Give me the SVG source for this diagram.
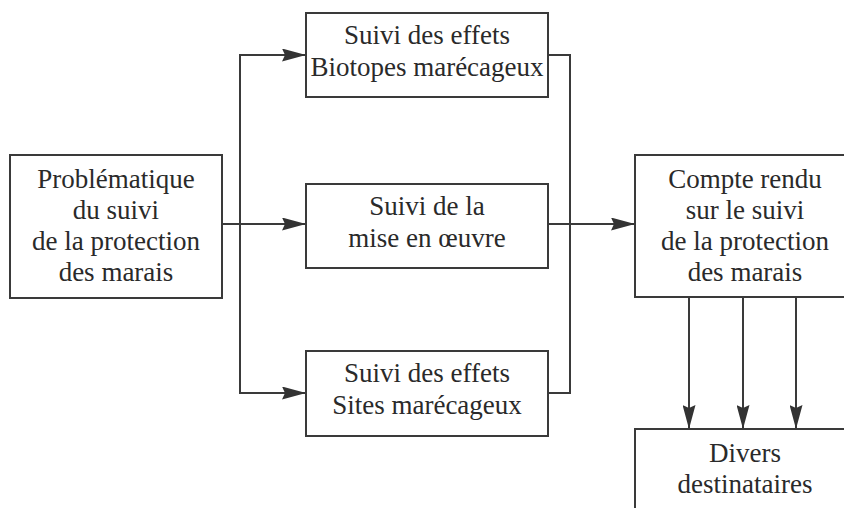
<svg xmlns="http://www.w3.org/2000/svg" width="844" height="508" viewBox="0 0 844 508">
<defs>
<style>
.box{fill:#fff;stroke:#3a3a3a;stroke-width:2}
.ln{fill:none;stroke:#3a3a3a;stroke-width:2}
.t{font-family:"Liberation Serif","Times New Roman",serif;font-size:27px;fill:#2a2a2a;text-anchor:middle}
</style>
<marker id="ah" viewBox="0 0 24 13" refX="24" refY="6.5" markerWidth="24" markerHeight="13" markerUnits="userSpaceOnUse" orient="auto">
<path d="M0,0 L24,6.5 L0,13 L3,6.5 z" fill="#333"/>
</marker>
</defs>
<rect width="844" height="508" fill="#fff"/>
<g id="connectors">
<line class="ln" x1="240" y1="55" x2="240" y2="393"/>
<line class="ln" x1="222" y1="224" x2="306" y2="224" marker-end="url(#ah)"/>
<line class="ln" x1="239" y1="55" x2="306" y2="55" marker-end="url(#ah)"/>
<line class="ln" x1="239" y1="393" x2="306" y2="393" marker-end="url(#ah)"/>
<path class="ln" d="M548,55 H570 V393 H548"/>
<line class="ln" x1="548" y1="224" x2="635" y2="224" marker-end="url(#ah)"/>
<line class="ln" x1="689" y1="297" x2="689" y2="429" marker-end="url(#ah)"/>
<line class="ln" x1="743" y1="297" x2="743" y2="429" marker-end="url(#ah)"/>
<line class="ln" x1="796" y1="297" x2="796" y2="429" marker-end="url(#ah)"/>
</g>
<g id="problematique">
<rect class="box" x="10" y="155" width="212" height="143"/>
<text class="t" x="116" y="188">Problématique</text>
<text class="t" x="116" y="219">du suivi</text>
<text class="t" x="116" y="250">de la protection</text>
<text class="t" x="116" y="281">des marais</text>
</g>
<g id="biotopes">
<rect class="box" x="306" y="13" width="242" height="84"/>
<text class="t" x="427" y="44">Suivi des effets</text>
<text class="t" x="427" y="76">Biotopes marécageux</text>
</g>
<g id="miseenoeuvre">
<rect class="box" x="306" y="184" width="242" height="84"/>
<text class="t" x="427" y="215">Suivi de la</text>
<text class="t" x="427" y="247">mise en œuvre</text>
</g>
<g id="sites">
<rect class="box" x="306" y="351" width="242" height="85"/>
<text class="t" x="427" y="382">Suivi des effets</text>
<text class="t" x="427" y="414">Sites marécageux</text>
</g>
<g id="compterendu">
<rect class="box" x="635" y="155" width="220" height="142"/>
<text class="t" x="745" y="188">Compte rendu</text>
<text class="t" x="745" y="219">sur le suivi</text>
<text class="t" x="745" y="250">de la protection</text>
<text class="t" x="745" y="281">des marais</text>
</g>
<g id="destinataires">
<rect class="box" x="635" y="429" width="220" height="90"/>
<text class="t" x="745" y="462">Divers</text>
<text class="t" x="745" y="493">destinataires</text>
</g>
</svg>
